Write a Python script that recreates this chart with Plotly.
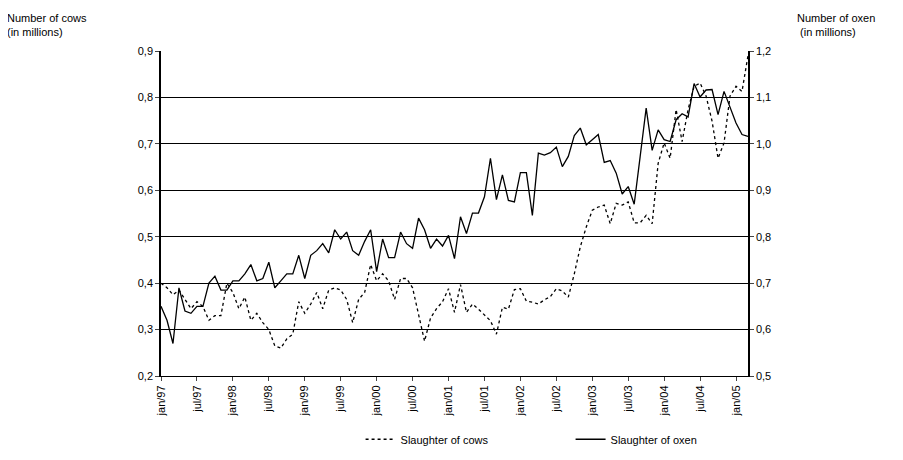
import plotly.graph_objects as go

months = ['jan', 'feb', 'mar', 'apr', 'may', 'jun', 'jul', 'aug', 'sep', 'oct', 'nov', 'dec']
labels = [f'{m}/{y:02d}' for y in [97, 98, 99, 0, 1, 2, 3, 4, 5] for m in months][:99]

cows = [0.40, 0.39, 0.375, 0.385, 0.365, 0.345, 0.36, 0.35, 0.32, 0.33,
        0.33, 0.40, 0.38, 0.345, 0.37, 0.32, 0.335, 0.315, 0.30, 0.265,
        0.26, 0.28, 0.29, 0.36, 0.335, 0.355, 0.38, 0.345, 0.385, 0.39,
        0.385, 0.365, 0.315, 0.365, 0.38, 0.44, 0.405, 0.42, 0.405, 0.365,
        0.41, 0.41, 0.39, 0.33, 0.275, 0.325, 0.345, 0.36, 0.388, 0.337,
        0.397, 0.337, 0.355, 0.344, 0.332, 0.319, 0.29, 0.348, 0.344, 0.386,
        0.388, 0.361, 0.359, 0.355, 0.364, 0.371, 0.388, 0.383, 0.37, 0.42,
        0.478, 0.521, 0.557, 0.564, 0.568, 0.528, 0.572, 0.568, 0.575, 0.53,
        0.53, 0.546, 0.528, 0.658, 0.702, 0.669, 0.774, 0.705, 0.774, 0.824,
        0.831, 0.803, 0.749, 0.669, 0.702, 0.803, 0.824, 0.813, 0.89]

# oxen in millions (right axis, 0.5-1.2)
oxen = [0.65, 0.62, 0.57, 0.69, 0.64, 0.635, 0.65, 0.65, 0.70, 0.715,
        0.685, 0.685, 0.705, 0.705, 0.72, 0.74, 0.705, 0.71, 0.745, 0.69,
        0.705, 0.72, 0.72, 0.76, 0.71, 0.76, 0.77, 0.785, 0.765, 0.815,
        0.795, 0.81, 0.77, 0.76, 0.79, 0.815, 0.725, 0.795, 0.755, 0.755,
        0.81, 0.785, 0.775, 0.84, 0.815, 0.775, 0.795, 0.78, 0.803, 0.753,
        0.843, 0.807, 0.851, 0.851, 0.886, 0.969, 0.88, 0.933, 0.878, 0.875,
        0.938, 0.938, 0.846, 0.98, 0.976, 0.981, 0.993, 0.951, 0.973, 1.018,
        1.034, 0.998, 1.009, 1.02, 0.96, 0.964, 0.937, 0.892, 0.908, 0.87,
        0.973, 1.077, 0.986, 1.03, 1.009, 1.005, 1.052, 1.065, 1.058, 1.13,
        1.101, 1.116, 1.117, 1.063, 1.113, 1.081, 1.045, 1.02, 1.016]

x = list(range(len(labels)))
font = dict(family='Liberation Sans, Arial', size=11, color='black')

fig = go.Figure()
fig.add_trace(go.Scatter(x=x, y=cows, name='Slaughter of cows', mode='lines',
                         line=dict(color='black', width=1.3, dash='dot')))
fig.add_trace(go.Scatter(x=x, y=oxen, name='Slaughter of oxen', mode='lines', yaxis='y2',
                         line=dict(color='black', width=1.3)))

fig.update_layout(
    width=903, height=460, margin=dict(l=153, r=163, t=43, b=92, autoexpand=False),
    paper_bgcolor='white', plot_bgcolor='white', font=font,
    showlegend=True,
    legend=dict(orientation='h', x=0.34, xanchor='left', y=-0.15, yanchor='top',
                font=dict(size=11), entrywidth=165, entrywidthmode='pixels'),
    xaxis=dict(range=[0, 98], tickmode='array', tickvals=x[::6], ticktext=labels[::6],
               tickangle=-90, showgrid=False, showline=True, linecolor='black',
               ticks='outside', ticklen=4, zeroline=False, automargin=False),
    yaxis=dict(range=[0.2, 0.9], dtick=0.1, tickformat='.1f', showgrid=True,
               gridcolor='black', gridwidth=1, showline=True, linecolor='black',
               linewidth=1.5, ticks='outside', ticklen=4, zeroline=False, automargin=False),
    yaxis2=dict(range=[0.5, 1.2], dtick=0.1, tickformat='.1f', overlaying='y',
                side='right', showgrid=False, showline=True, linecolor='black',
                linewidth=1.5, ticks='outside', ticklen=4, zeroline=False, automargin=False),
    separators=',.',
    annotations=[
        dict(text='Number of cows<br>(in millions)', xref='paper', yref='paper',
             x=-0.265, y=1.125, xanchor='left', yanchor='top', showarrow=False, align='left'),
        dict(text='Number of oxen<br> (in millions)', xref='paper', yref='paper',
             x=1.08, y=1.125, xanchor='left', yanchor='top', showarrow=False, align='left'),
    ],
)

fig.write_html('out.html')
